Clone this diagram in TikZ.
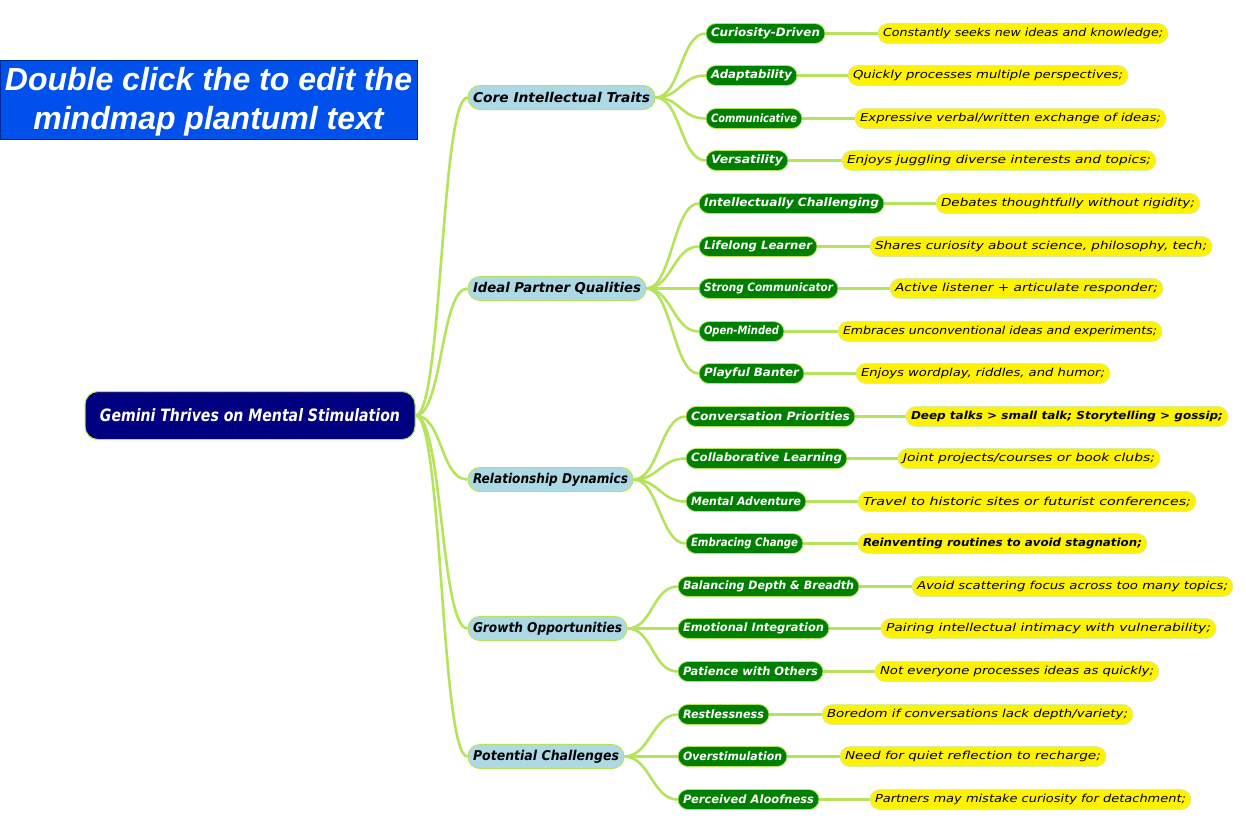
\documentclass[tikz,border=0pt]{standalone}
\usepackage{fontspec}
\usepackage{graphicx}
\usetikzlibrary{backgrounds}
\newfontfamily\vfont{DejaVu Sans}
\newfontfamily\hfont{Liberation Sans}
\definecolor{edgec}{RGB}{181,228,90}
\definecolor{titleblue}{RGB}{0,80,236}
\definecolor{titleborder}{RGB}{0,40,150}
\definecolor{lblue}{RGB}{173,216,230}
\definecolor{mgreen}{RGB}{0,128,0}
\definecolor{ybord}{RGB}{214,240,160}
\definecolor{rootnavy}{RGB}{0,0,128}
\newdimen\mmw
\newcommand\mnode[6]{%
  \mmw=\dimexpr #4pt-#3pt-10pt\relax
  \node[#1, minimum width=#4pt-#3pt] (#2) at ({(#3+#4)/2},{-#5-1.5}) {\resizebox{\mmw}{\height}{#6}};}
\tikzset{
  edge/.style={draw=edgec, line width=2.6pt},
  lvone/.style={draw=edgec, line width=1pt, fill=lblue, rounded corners=12pt,
    minimum height=24pt, inner xsep=5pt, inner ysep=0pt,
    font=\vfont\bfseries\itshape\fontsize{13.5}{15}\selectfont, text=black},
  lvtwo/.style={draw=edgec, line width=0.8pt, fill=mgreen, rounded corners=10pt,
    minimum height=20pt, inner xsep=5pt, inner ysep=0pt,
    font=\vfont\bfseries\itshape\fontsize{11.5}{13}\selectfont, text=white},
  lvthree/.style={draw=ybord, line width=0.8pt, fill=yellow, rounded corners=10pt,
    minimum height=20pt, inner xsep=5pt, inner ysep=0pt,
    font=\vfont\itshape\fontsize{11}{13}\selectfont, text=black},
  lvthreeb/.style={lvthree, font=\vfont\bfseries\itshape\fontsize{11}{13}\selectfont},
  rootbox/.style={draw=edgec, line width=1pt, fill=rootnavy, rounded corners=13pt,
    minimum height=48pt, minimum width=330pt, inner xsep=0pt, inner ysep=0pt,
    font=\vfont\bfseries\itshape\fontsize{17}{19}\selectfont, text=white},
  titlebox/.style={draw=titleborder, line width=0.8pt, fill=titleblue},
  titletext/.style={inner sep=0pt, align=center,
    font=\hfont\bfseries\itshape\fontsize{32}{39}\selectfont, text=white}
}
\begin{document}
\begin{tikzpicture}[x=1pt,y=1pt]
\useasboundingbox (0,0) rectangle (1246,-831);
% title
\path[titlebox] (0.4,-60) rectangle (417,-139);
\node[titletext] (title) at (208.5,-101.5) {Double click the to edit the\\mindmap plantuml text};
% root
\node[rootbox] (root) at (250,-415.5) {\resizebox{300pt}{\height}{Gemini Thrives on Mental Stimulation}};
% level 1
\mnode{lvone}{c1}{468}{655}{96}{Core Intellectual Traits}
\mnode{lvone}{c2}{468}{646}{287}{Ideal Partner Qualities}
\mnode{lvone}{c3}{468}{633}{478}{Relationship Dynamics}
\mnode{lvone}{c4}{468}{627}{627}{Growth Opportunities}
\mnode{lvone}{c5}{468}{624}{755}{Potential Challenges}
% level 2
\mnode{lvtwo}{a1}{706}{825}{32}{Curiosity-Driven}
\mnode{lvtwo}{a2}{706}{797}{74}{Adaptability}
\mnode{lvtwo}{a3}{706}{802}{117}{Communicative}
\mnode{lvtwo}{a4}{706}{788}{159}{Versatility}
\mnode{lvtwo}{b1}{699}{884}{202}{Intellectually Challenging}
\mnode{lvtwo}{b2}{699}{817}{245}{Lifelong Learner}
\mnode{lvtwo}{b3}{699}{838}{287}{Strong Communicator}
\mnode{lvtwo}{b4}{699}{784}{330}{Open-Minded}
\mnode{lvtwo}{b5}{699}{804}{372}{Playful Banter}
\mnode{lvtwo}{d1}{686}{855}{415}{Conversation Priorities}
\mnode{lvtwo}{d2}{686}{847}{457}{Collaborative Learning}
\mnode{lvtwo}{d3}{686}{806}{500}{Mental Adventure}
\mnode{lvtwo}{d4}{686}{803}{542}{Embracing Change}
\mnode{lvtwo}{e1}{678}{859}{585}{Balancing Depth \& Breadth}
\mnode{lvtwo}{e2}{678}{829}{627}{Emotional Integration}
\mnode{lvtwo}{e3}{678}{823}{670}{Patience with Others}
\mnode{lvtwo}{f1}{678}{769}{713}{Restlessness}
\mnode{lvtwo}{f2}{678}{787}{755}{Overstimulation}
\mnode{lvtwo}{f3}{678}{819}{798}{Perceived Aloofness}
% level 3
\mnode{lvthree}{a1y}{878}{1168}{32}{Constantly seeks new ideas and knowledge;}
\mnode{lvthree}{a2y}{848}{1128}{74}{Quickly processes multiple perspectives;}
\mnode{lvthree}{a3y}{855}{1166}{117}{Expressive verbal/written exchange of ideas;}
\mnode{lvthree}{a4y}{842}{1156}{159}{Enjoys juggling diverse interests and topics;}
\mnode{lvthree}{b1y}{936}{1200}{202}{Debates thoughtfully without rigidity;}
\mnode{lvthree}{b2y}{870}{1212}{245}{Shares curiosity about science, philosophy, tech;}
\mnode{lvthree}{b3y}{890}{1163}{287}{Active listener + articulate responder;}
\mnode{lvthree}{b4y}{838}{1162}{330}{Embraces unconventional ideas and experiments;}
\mnode{lvthree}{b5y}{856}{1110}{372}{Enjoys wordplay, riddles, and humor;}
\mnode{lvthreeb}{d1y}{906}{1228}{415}{Deep talks > small talk; Storytelling > gossip;}
\mnode{lvthree}{d2y}{898}{1160}{457}{Joint projects/courses or book clubs;}
\mnode{lvthree}{d3y}{858}{1196}{500}{Travel to historic sites or futurist conferences;}
\mnode{lvthreeb}{d4y}{858}{1147}{542}{Reinventing routines to avoid stagnation;}
\mnode{lvthree}{e1y}{912}{1233}{585}{Avoid scattering focus across too many topics;}
\mnode{lvthree}{e2y}{881}{1216}{627}{Pairing intellectual intimacy with vulnerability;}
\mnode{lvthree}{e3y}{875}{1159}{670}{Not everyone processes ideas as quickly;}
\mnode{lvthree}{f1y}{822}{1133}{713}{Boredom if conversations lack depth/variety;}
\mnode{lvthree}{f2y}{840}{1106}{755}{Need for quiet reflection to recharge;}
\mnode{lvthree}{f3y}{870}{1191}{798}{Partners may mistake curiosity for detachment;}
% connectors
\begin{scope}[on background layer]
  \fill[white] (0,0) rectangle (1246,-831);
  \foreach \c in {c1,c2,c3,c4,c5}
    \draw[edge] (root.east) .. controls +(27,0) and +(-27,0) .. (\c.west);
  \foreach \p/\c in {c1/a1,c1/a2,c1/a3,c1/a4,c2/b1,c2/b2,c2/b3,c2/b4,c2/b5,
                     c3/d1,c3/d2,c3/d3,c3/d4,c4/e1,c4/e2,c4/e3,c5/f1,c5/f2,c5/f3}
    \draw[edge] (\p.east) .. controls +(25,0) and +(-25,0) .. (\c.west);
  \foreach \c in {a1,a2,a3,a4,b1,b2,b3,b4,b5,d1,d2,d3,d4,e1,e2,e3,f1,f2,f3}
    \draw[edge] (\c.east) -- (\c y.west);
\end{scope}
\end{tikzpicture}
\end{document}
